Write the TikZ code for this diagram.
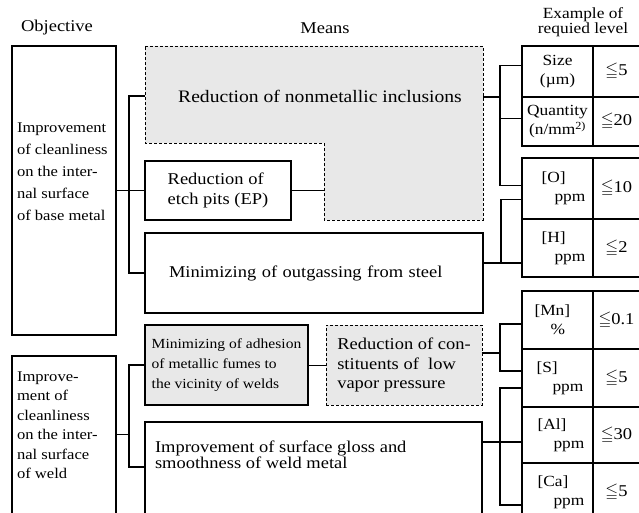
\documentclass[tikz,border=0pt]{standalone}
\usepackage{amssymb}
\usepackage{fontspec}
\setmainfont{Liberation Serif}[FakeStretch=1.12]
\usetikzlibrary{positioning}

\begin{document}
\begin{tikzpicture}[x=1pt, y=-1pt,
  every node/.style={inner sep=0pt, outer sep=0pt},
  txt/.style={font=\fontsize{16.5}{20}\selectfont},
  box/.style={draw, line width=1.1pt, align=left, font=\fontsize{16.5}{20}\selectfont},
  dots/.style={fill=black!9},
  cell/.style={draw, line width=1.1pt, anchor=north west, minimum width=71pt,
    align=center, font=\fontsize{15.5}{19}\selectfont},
  elem/.style={cell, align=left, text width=56pt},
  val/.style={draw, line width=1.1pt, minimum width=47pt, font=\fontsize{16.5}{18}\selectfont},
  link/.style={line width=1.3pt}
]
\useasboundingbox (0,0) rectangle (639,513);

% headings
\node[txt] (hobj)   at (57,28)  {Objective};
\node[txt] (hmeans) at (325,28) {Means};
\node[txt, align=center, font=\fontsize{15.5}{15}\selectfont] (hlevel) at (583,22) {Example of\\requied level};

% objectives
\node[box, minimum width=104pt, minimum height=289pt] (obj1) at (64,190.5) {};
\node[txt, align=left, anchor=west, font=\fontsize{14.8}{22}\selectfont] (obj1txt) at (17,172)
  {Improvement\\of cleanliness\\on the inter-\\nal surface\\of base metal};
\node[box, minimum width=104pt, minimum height=175pt, anchor=north] (obj2) at (64,356) {};
\node[txt, align=left, anchor=west, font=\fontsize{14.8}{19.5}\selectfont] (obj2txt) at (17,425)
  {Improve-\\ment of\\cleanliness\\on the inter-\\nal surface\\of weld};

% means, base metal
\filldraw[dots, line width=0.4pt, densely dashed]
  (145,46) -- (483,46) -- (483,220) -- (324,220) -- (324,143) -- (145,143) -- cycle;
\coordinate (nmW) at (145,96);
\coordinate (nmE) at (483,97);
\coordinate (nmS) at (324,190.5);
\node[txt, font=\fontsize{17.5}{20}\selectfont] (nonmet) at (320,96) {Reduction of nonmetallic inclusions};
\node[box, minimum width=146pt, minimum height=59pt] (etch) at (218,190.5) {Reduction of\\etch pits (EP)};
\node[box, minimum width=338pt, minimum height=80pt, text width=290pt] (outgas) at (314,273)
  {Minimizing of outgassing from steel};

% means, weld
\node[box, dots, minimum width=163pt, minimum height=80pt, font=\fontsize{13.9}{20}\selectfont] (adh) at (226.5,365)
  {Minimizing of adhesion\\of metallic fumes to\\the vicinity of welds};
\node[box, dots, line width=0.4pt, densely dashed, minimum width=156pt, minimum height=80pt,
  font=\fontsize{16.5}{19.5}\selectfont] (cons) at (404,365)
  {Reduction of con-\\stituents of ~low\\vapor pressure};
\node[box, minimum width=337pt, minimum height=108pt] (gloss) at (313.5,476) {};
\node[txt, align=left, anchor=west, font=\fontsize{16.5}{15.5}\selectfont] (glosstxt) at (155,455)
  {Improvement of surface gloss and\\smoothness of weld metal};

% required levels
\node[cell, minimum height=51pt] (size) at (522,46) {Size\\(µm)};
\node[val, minimum height=51pt, right=0pt of size] (vsize) {$\leqq$5};
\node[cell, minimum height=49pt, below=0pt of size] (quant) {Quantity\\(n/mm\textsuperscript{2)}};
\node[val, minimum height=49pt, right=0pt of quant] (vquant) {$\leqq$20};

\node[elem, minimum height=61pt] (oxy) at (522,158) {\hspace*{12pt}[O]\\\hspace*{25pt}ppm};
\node[val, minimum height=61pt, right=0pt of oxy] (voxy) {$\leqq$10};
\node[elem, minimum height=58pt, below=0pt of oxy] (hyd) {\hspace*{12pt}[H]\\\hspace*{25pt}ppm};
\node[val, minimum height=58pt, right=0pt of hyd] (vhyd) {$\leqq$2};

\node[elem, minimum height=58pt] (mn) at (522,291) {\hspace*{5pt}[Mn]\\\hspace*{21pt}\%};
\node[val, minimum height=58pt, right=0pt of mn] (vmn) {$\leqq$0.1};
\node[elem, minimum height=58pt, below=0pt of mn] (sul) {\hspace*{7pt}[S]\\\hspace*{23pt}ppm};
\node[val, minimum height=58pt, right=0pt of sul] (vsul) {$\leqq$5};
\node[elem, minimum height=56pt, below=0pt of sul] (alu) {\hspace*{8pt}[Al]\\\hspace*{24pt}ppm};
\node[val, minimum height=56pt, right=0pt of alu] (valu) {$\leqq$30};
\node[elem, minimum height=58pt, below=0pt of alu] (cal) {\hspace*{8pt}[Ca]\\\hspace*{24pt}ppm};
\node[val, minimum height=58pt, right=0pt of cal] (vcal) {$\leqq$5};

% links, left side
\draw[link] (obj1) -- (etch);
\draw[link] (nmW) -- ++(-16,0) |- (outgas.west);
\draw[link] (etch.east) -- (etch.east -| nmS);
\draw[link] ([yshift=9pt]obj2.east) -- ++(13,0);
\draw[link] (adh.west) -- ++(-16,0) |- ([yshift=9pt]gloss.west);
\draw[link, line width=0.8pt] (adh) -- (cons);

% links, right side
\draw[link] ([yshift=6pt]size.west) -- ++(-22,0) |- ([yshift=3pt]oxy.west);
\draw[link] ([yshift=3pt]quant.west) -- ++(-22,0);
\draw[link] (nmE) -- ++(17,0);
\draw[link] ([yshift=-11pt]oxy.west) -- ++(-21,0) |- ([yshift=10pt]outgas.east);
\draw[link] ([yshift=10pt]outgas.east) -- ([yshift=10pt]outgas.east -| hyd.west);
\draw[link] ([yshift=-4pt]mn.west) -- ++(-22,0) |- ([yshift=7pt]sul.west);
\draw[link] ([yshift=12pt]cons.east) -- ++(18,0);
\draw[link] ([yshift=-10pt]sul.west) -- ++(-22,0) |- ([yshift=-13pt]cal.west);
\draw[link] ([yshift=34pt]gloss.east) -- ([yshift=34pt]gloss.east -| alu.west);

\end{tikzpicture}
\end{document}
